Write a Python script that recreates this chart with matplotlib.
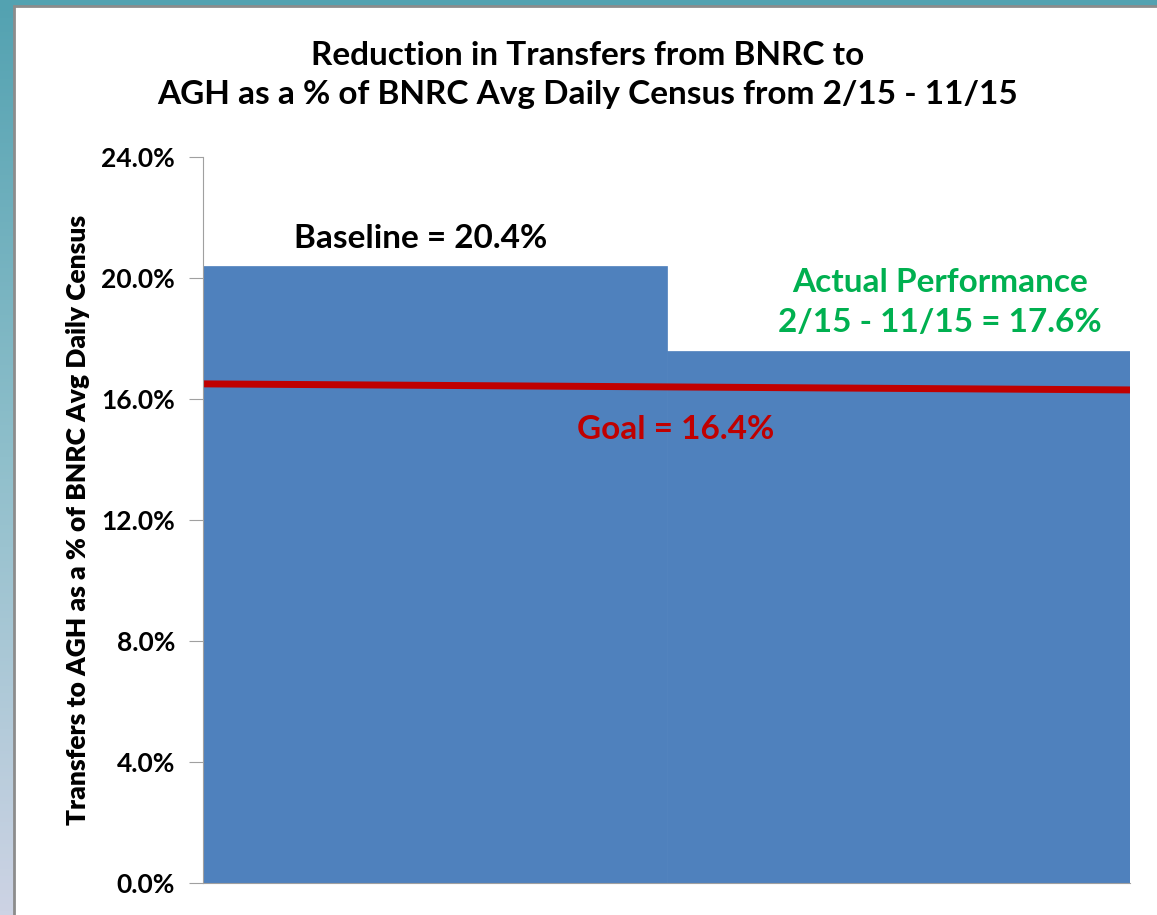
import numpy as np
import matplotlib
matplotlib.use('Agg')
import matplotlib.pyplot as plt
from matplotlib.patches import Rectangle
from matplotlib.ticker import FuncFormatter

# chart values (percent)
periods = ['Baseline', 'Actual 2/15 - 11/15']
rates = [20.4, 17.6]
goal = 16.4
goal_line = [16.5, 16.3]   # drawn line drifts slightly across the plot
y_ticks = [0, 4, 8, 12, 16, 20, 24]

bar_color = '#4f81bd'
goal_color = '#c00000'
actual_color = '#00b050'

plt.rcParams['font.family'] = ['Lato', 'DejaVu Sans']

fig = plt.figure(figsize=(11.57, 9.15), dpi=100)

# slide-like backdrop: teal gradient strip at left/top, white panel
bg = fig.add_axes([0, 0, 1, 1], zorder=-10)
grad = np.linspace(0, 1, 256).reshape(-1, 1)
cmap = matplotlib.colors.LinearSegmentedColormap.from_list('bg', ['#53a2b1', '#8fbfcb', '#cdd3e4'])
bg.imshow(grad, aspect='auto', cmap=cmap, extent=[0, 1, 0, 1], origin='upper')
bg.add_patch(Rectangle((14 / 1157, -0.1), 1.1, 1.1 - 6 / 915, facecolor='white',
                       edgecolor='#8c8c8c', linewidth=2))
bg.set_xlim(0, 1)
bg.set_ylim(0, 1)
bg.axis('off')

ax = fig.add_axes([203 / 1157, 1 - 883 / 915, (1130 - 203) / 1157, (883 - 157) / 915])
ax.patch.set_alpha(0)

x = np.arange(len(rates))
ax.bar(x, rates, width=1.0, color=bar_color, edgecolor=bar_color, linewidth=0.5)
ax.plot([x[0] - 0.5, x[-1] + 0.5], goal_line, color=goal_color, linewidth=5, solid_capstyle='butt')

ax.set_xlim(-0.5, 1.5)
ax.set_ylim(0, 24)
ax.set_yticks(y_ticks)
ax.yaxis.set_major_formatter(FuncFormatter(lambda v, p: f'{v:.1f}%'))
ax.set_xticks([])
for s in ['top', 'right']:
    ax.spines[s].set_visible(False)
ax.spines['left'].set_color('#a0a0a0')
ax.spines['bottom'].set_color('#a0a0a0')
ax.tick_params(axis='y', length=10, color='#a0a0a0', labelsize=19, pad=10)
for lbl in ax.get_yticklabels():
    lbl.set_fontweight('bold')

ax.set_ylabel('Transfers to AGH as a % of BNRC Avg Daily Census', fontsize=19,
              fontweight='heavy', labelpad=8)

ax.text(x[0] - 0.03, rates[0] + 0.9, f'Baseline = {rates[0]}%', ha='center', va='center',
        fontsize=24, fontweight='bold', color='black')
ax.text(x[1] + 0.09, rates[1] + 1.6, f'Actual Performance\n2/15 - 11/15 = {rates[1]}%',
        ha='center', va='center', fontsize=24, fontweight='bold', color=actual_color,
        linespacing=1.45)
ax.text(0.52, goal - 1.4, f'Goal = {goal}%', ha='center', va='center',
        fontsize=24, fontweight='bold', color=goal_color)

fig.text(588 / 1157, 1 - 75 / 915,
         'Reduction in Transfers from BNRC to\nAGH as a % of BNRC Avg Daily Census from 2/15 - 11/15',
         ha='center', va='center', fontsize=24, fontweight='bold', linespacing=1.45)

fig.savefig('out.png', dpi=100)
